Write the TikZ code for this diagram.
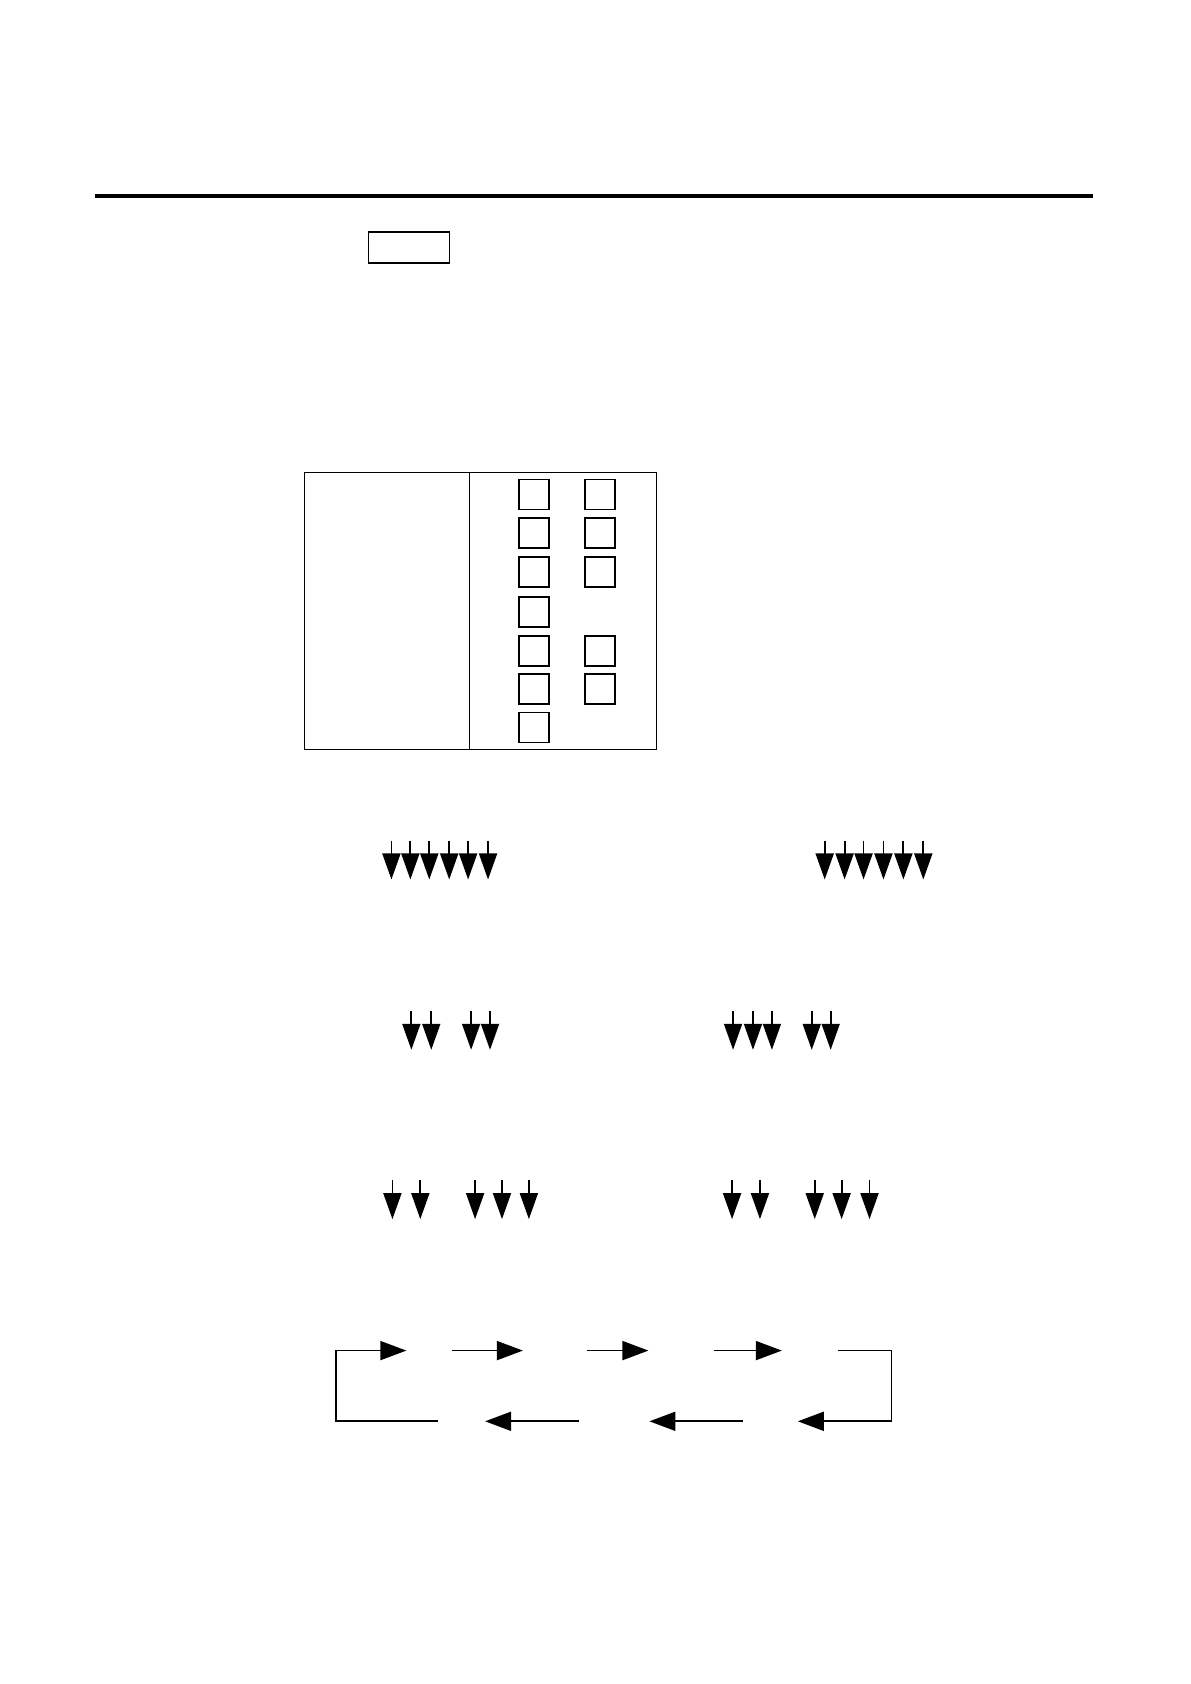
\documentclass[tikz,border=0pt]{standalone}
\usetikzlibrary{arrows.meta}
\begin{document}
\begin{tikzpicture}[x=0.996pt,y=-0.996pt,
  sq/.style={draw,line width=1.8pt,minimum width=30pt,minimum height=30pt,inner sep=0pt,anchor=center},
  dnarrow/.style={line width=1.8pt,-{Triangle[length=26pt,width=18pt]}},
  flowarrow/.style={line width=1.7pt,-{Triangle[length=26pt,width=19pt]}}]
\useasboundingbox[fill=white] (0,0) rectangle (1194.78,1690.76);
% top rule
\coordinate (ruleL) at (95,197);
\coordinate (ruleR) at (1097,197);
\draw[line width=4pt] (ruleL) -- (ruleR);
% small box
\node[draw,line width=1.6pt,minimum width=81pt,minimum height=31pt,inner sep=0pt] (smallbox) at (410.5,248.5) {};
% table frame
\node[draw,line width=1.8pt,minimum width=352pt,minimum height=277pt,inner sep=0pt] (frame) at (482.5,613.5) {};
\coordinate (divT) at (471,475);
\coordinate (divB) at (471,752);
\draw[line width=1.2pt] (divT) -- (divB);
% squares
\foreach \y [count=\i] in {496.5,535.5,574.5,614.5,653.5,691.5,730.5}
  \node[sq] (a\i) at (536,\y) {};
\foreach \y/\i in {496.5/1,535.5/2,574.5/3,653.5/5,691.5/6}
  \node[sq] (b\i) at (602,\y) {};
% row 1 arrows
\foreach \x in {393,412,431,451,470,490,828,848,867,887,907,927}
  \draw[dnarrow] (\x,844) -- (\x,883);
% row 2 arrows
\foreach \x in {413,433,473,492,736,756,775,815,834}
  \draw[dnarrow] (\x,1015) -- (\x,1054);
% row 3 arrows
\foreach \x in {394,422,477,504,531,735,763,818,845,873}
  \draw[dnarrow] (\x,1185) -- (\x,1224);
% loop
\coordinate (l1a) at (440,1427);
\coordinate (cBL) at (337,1427);
\coordinate (cTL) at (337,1356);
\coordinate (l1b) at (408,1356);
\draw[flowarrow] (l1a) -- (cBL) -- (cTL) -- (l1b);
\coordinate (t2a) at (454,1356); \coordinate (t2b) at (525,1356);
\draw[flowarrow] (t2a) -- (t2b);
\coordinate (t3a) at (589,1356); \coordinate (t3b) at (651,1356);
\draw[flowarrow] (t3a) -- (t3b);
\coordinate (t4a) at (717,1356); \coordinate (t4b) at (785,1356);
\draw[flowarrow] (t4a) -- (t4b);
\coordinate (t5a) at (841,1356);
\coordinate (cTR) at (895,1356);
\coordinate (cBR) at (895,1427);
\coordinate (t5b) at (801,1427);
\draw[flowarrow] (t5a) -- (cTR) -- (cBR) -- (t5b);
\coordinate (b2a) at (746,1427); \coordinate (b2b) at (652,1427);
\draw[flowarrow] (b2a) -- (b2b);
\coordinate (b3a) at (581,1427); \coordinate (b3b) at (487,1427);
\draw[flowarrow] (b3a) -- (b3b);
\end{tikzpicture}
\end{document}
